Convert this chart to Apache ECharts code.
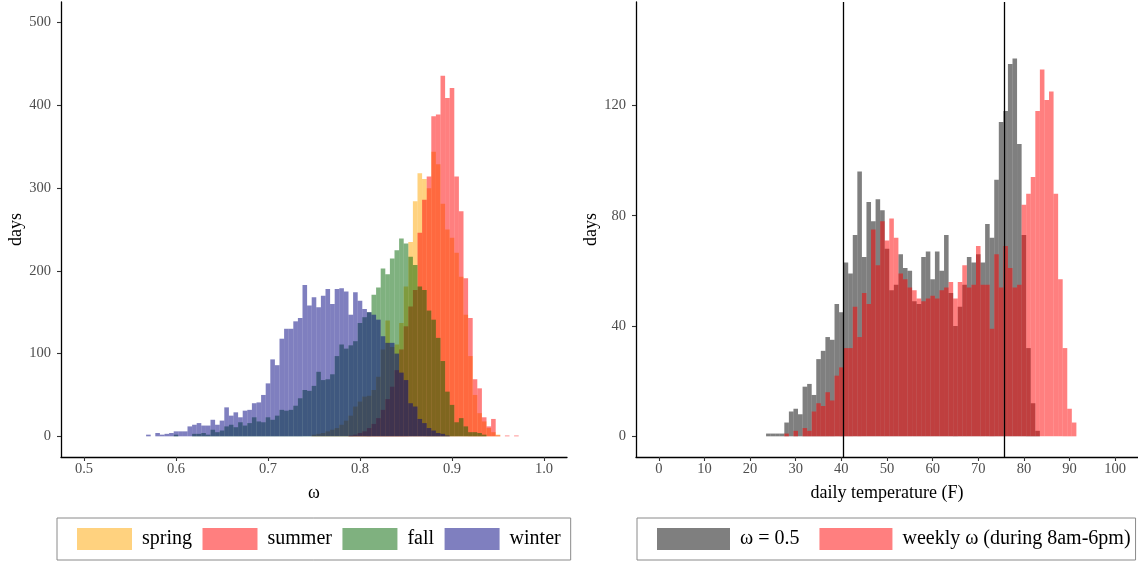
<!DOCTYPE html>
<html>
<head>
<meta charset="utf-8">
<title>omega histograms</title>
<script src="https://cdn.jsdelivr.net/npm/echarts@6/dist/echarts.min.js"></script>
<style>
  html, body { margin: 0; padding: 0; background: #fff; }
  #chart { width: 1138px; height: 563px; }
</style>
</head>
<body>
<div id="chart"></div>
<script>
// left panel: bin centres (binwidth 0.005) and days per season
var omegaBins = [
  0.570, 0.575, 0.580, 0.585, 0.590, 0.595, 0.600, 0.605, 0.610, 0.615,
  0.620, 0.625, 0.630, 0.635, 0.640, 0.645, 0.650, 0.655, 0.660, 0.665,
  0.670, 0.675, 0.680, 0.685, 0.690, 0.695, 0.700, 0.705, 0.710, 0.715,
  0.720, 0.725, 0.730, 0.735, 0.740, 0.745, 0.750, 0.755, 0.760, 0.765,
  0.770, 0.775, 0.780, 0.785, 0.790, 0.795, 0.800, 0.805, 0.810, 0.815,
  0.820, 0.825, 0.830, 0.835, 0.840, 0.845, 0.850, 0.855, 0.860, 0.865,
  0.870, 0.875, 0.880, 0.885, 0.890, 0.895, 0.900, 0.905, 0.910, 0.915,
  0.920, 0.925, 0.930, 0.935, 0.940, 0.945, 0.950, 0.955, 0.960, 0.965,
  0.970
];
var springDays = [
  0, 0, 0, 0, 0, 0, 0, 0, 0, 0,
  0, 0, 0, 0, 0, 0, 0, 0, 0, 0,
  0, 0, 0, 0, 0, 0, 0, 0, 0, 0,
  0, 0, 0, 0, 0, 0, 2, 3, 4, 6,
  8, 10, 14, 19, 25, 36, 42, 48, 49, 56,
  72, 105, 140, 108, 111, 137, 181, 235, 284, 318,
  311, 300, 344, 329, 281, 250, 240, 222, 193, 147,
  97, 50, 28, 18, 10, 5, 2, 0, 0, 0,
  0
];
var summerDays = [
  0, 0, 0, 0, 0, 0, 0, 0, 0, 0,
  0, 0, 0, 0, 0, 0, 0, 0, 0, 0,
  0, 0, 0, 0, 0, 0, 0, 0, 0, 0,
  0, 0, 0, 0, 0, 0, 0, 0, 0, 0,
  0, 0, 0, 0, 1, 2, 4, 6, 10, 15,
  22, 32, 45, 60, 80, 105, 133, 157, 177, 246,
  286, 314, 387, 389, 436, 409, 421, 314, 272, 191,
  143, 69, 58, 23, 12, 21, 1, 0, 1, 0,
  1
];
var fallDays = [
  0, 0, 0, 0, 0, 0, 2, 0, 0, 0,
  3, 3, 4, 2, 8, 5, 7, 12, 14, 11,
  17, 13, 16, 23, 18, 17, 23, 20, 25, 32,
  31, 32, 37, 46, 56, 55, 61, 78, 68, 69,
  75, 97, 111, 106, 110, 115, 137, 144, 150, 171,
  180, 203, 196, 215, 225, 239, 233, 217, 207, 181,
  177, 152, 141, 119, 91, 54, 38, 17, 22, 12,
  5, 5, 4, 2, 0, 0, 0, 0, 0, 0,
  0
];
var winterDays = [
  2, 0, 4, 2, 3, 4, 6, 6, 6, 12,
  14, 16, 13, 13, 20, 14, 19, 35, 25, 29,
  23, 31, 32, 40, 41, 50, 64, 93, 86, 118,
  130, 130, 139, 143, 183, 158, 168, 156, 170, 178,
  160, 178, 179, 175, 147, 174, 164, 154, 150, 147,
  141, 121, 113, 113, 100, 77, 68, 40, 36, 21,
  16, 10, 7, 4, 3, 1, 0, 0, 0, 0,
  0, 0, 0, 0, 0, 0, 0, 0, 0, 0,
  0
];

// right panel: daily temperature bins (binwidth 1 F)
var tempBins = [
  24, 25, 26, 27, 28, 29, 30, 31, 32, 33,
  34, 35, 36, 37, 38, 39, 40, 41, 42, 43,
  44, 45, 46, 47, 48, 49, 50, 51, 52, 53,
  54, 55, 56, 57, 58, 59, 60, 61, 62, 63,
  64, 65, 66, 67, 68, 69, 70, 71, 72, 73,
  74, 75, 76, 77, 78, 79, 80, 81, 82, 83,
  84, 85, 86, 87, 88, 89, 90, 91
];
var fixedOmegaDays = [
  1, 1, 1, 1, 5, 9, 10, 8, 18, 19,
  15, 28, 31, 36, 35, 48, 45, 63, 59, 73,
  96, 65, 85, 78, 86, 82, 68, 53, 55, 66,
  61, 60, 49, 48, 65, 67, 57, 67, 60, 73,
  52, 40, 47, 55, 65, 63, 66, 63, 77, 72,
  93, 114, 118, 135, 137, 106, 73, 32, 12, 2,
  0, 0, 0, 0, 0, 0, 0, 0
];
var weeklyOmegaDays = [
  0, 0, 0, 0, 1, 0, 2, 0, 3, 2,
  9, 12, 11, 16, 13, 22, 25, 32, 32, 47,
  36, 52, 48, 75, 62, 78, 71, 79, 72, 59,
  57, 54, 53, 50, 49, 50, 51, 50, 53, 54,
  56, 50, 56, 62, 54, 55, 69, 55, 55, 39,
  66, 54, 69, 61, 54, 55, 84, 88, 94, 118,
  133, 122, 125, 88, 57, 32, 10, 5
];
var tempCuts = [40.4, 75.6];

// tick labels
var omegaTicks = [0.5, 0.6, 0.7, 0.8, 0.9, 1.0];
var omegaDayTicks = [0, 100, 200, 300, 400, 500];
var tempTicks = [0, 10, 20, 30, 40, 50, 60, 70, 80, 90, 100];
var tempDayTicks = [0, 40, 80, 120];

var serif = '"Liberation Serif", "DejaVu Serif", serif';

var zip = function (xs, ys) {
  return xs.map(function (x, i) { return [x, ys[i]]; });
};

// histogram bar drawn through the axis scales
var histItem = function (binWidth) {
  return function (params, api) {
    var x = api.value(0);
    var y = api.value(1);
    if (!y) {
      return null;
    }
    var p0 = api.coord([x - binWidth / 2, y]);
    var p1 = api.coord([x + binWidth / 2, 0]);
    return {
      type: 'rect',
      shape: { x: p0[0], y: p0[1], width: p1[0] - p0[0], height: p1[1] - p0[1] },
      style: { fill: api.visual('color') }
    };
  };
};

var histSeries = function (name, color, gridIdx, binWidth, data) {
  return {
    type: 'custom',
    name: name,
    xAxisIndex: gridIdx,
    yAxisIndex: gridIdx,
    renderItem: histItem(binWidth),
    encode: { x: 0, y: 1 },
    itemStyle: { color: color },
    silent: true,
    data: data
  };
};

var axisBase = function (gridIdx, min, max, ticks, name, nameGap, labelMargin, extra) {
  var axis = {
    type: 'value',
    gridIndex: gridIdx,
    min: min,
    max: max,
    name: name,
    nameLocation: 'middle',
    nameGap: nameGap,
    nameTextStyle: { fontFamily: serif, fontSize: 18, color: '#000' },
    axisLine: { onZero: false, lineStyle: { color: '#000', width: 1.3 } },
    axisTick: { customValues: ticks, length: 4, lineStyle: { color: '#333', width: 1.1 } },
    axisLabel: { customValues: ticks, margin: labelMargin, fontFamily: serif, fontSize: 14.5, color: '#4d4d4d' },
    splitLine: { show: false }
  };
  for (var k in extra) {
    axis[k] = extra[k];
  }
  return axis;
};

var legendBase = function (names, left, keyWidth, gap, pad) {
  return {
    data: names.map(function (n) { return { name: n, icon: 'rect' }; }),
    left: left,
    top: 518,
    orient: 'horizontal',
    itemWidth: keyWidth,
    itemHeight: 22,
    itemGap: gap,
    padding: pad,
    borderColor: '#8a8a8a',
    borderWidth: 1,
    selectedMode: false,
    textStyle: { fontFamily: serif, fontSize: 20, lineHeight: 22, color: '#000', padding: [0, 0, 0, 5] }
  };
};

var chart = echarts.init(document.getElementById('chart'), null, { renderer: 'canvas' });

var gray = histSeries('ω = 0.5', 'rgba(0,0,0,0.5)', 1, 1, zip(tempBins, fixedOmegaDays));
gray.markLine = {
  silent: true,
  symbol: ['none', 'none'],
  label: { show: false },
  lineStyle: { color: '#000', width: 1.3, type: 'solid' },
  data: tempCuts.map(function (t) { return { xAxis: t }; })
};

var leftX = axisBase(0, 0.475, 1.025, omegaTicks, 'ω', 27, 5, {});
leftX.axisLabel.formatter = function (v) { return v.toFixed(1); };

chart.setOption({
  animation: false,
  backgroundColor: '#fff',
  grid: [
    { left: 61, right: 571, top: 2, bottom: 106 },
    { left: 636, right: 0, top: 2, bottom: 106 }
  ],
  xAxis: [
    leftX,
    axisBase(1, -5, 105, tempTicks, 'daily temperature (F)', 27, 5, {})
  ],
  yAxis: [
    axisBase(0, -25, 525, omegaDayTicks, 'days', 36, 10, { nameRotate: 90 }),
    axisBase(1, -7.5, 157.5, tempDayTicks, 'days', 35, 10, { nameRotate: 90 })
  ],
  legend: [
    legendBase(['spring', 'summer', 'fall', 'winter'], 57, 55, 10.5, [10, 10, 10, 20]),
    legendBase(['ω = 0.5', 'weekly ω (during 8am-6pm)'], 637, 73, 20, [10, 5, 10, 20])
  ],
  series: [
    histSeries('spring', 'rgba(255,165,0,0.5)', 0, 0.005, zip(omegaBins, springDays)),
    histSeries('summer', 'rgba(255,0,0,0.5)', 0, 0.005, zip(omegaBins, summerDays)),
    histSeries('fall', 'rgba(0,100,0,0.5)', 0, 0.005, zip(omegaBins, fallDays)),
    histSeries('winter', 'rgba(0,0,128,0.5)', 0, 0.005, zip(omegaBins, winterDays)),
    gray,
    histSeries('weekly ω (during 8am-6pm)', 'rgba(255,0,0,0.5)', 1, 1, zip(tempBins, weeklyOmegaDays))
  ]
});
</script>
</body>
</html>
